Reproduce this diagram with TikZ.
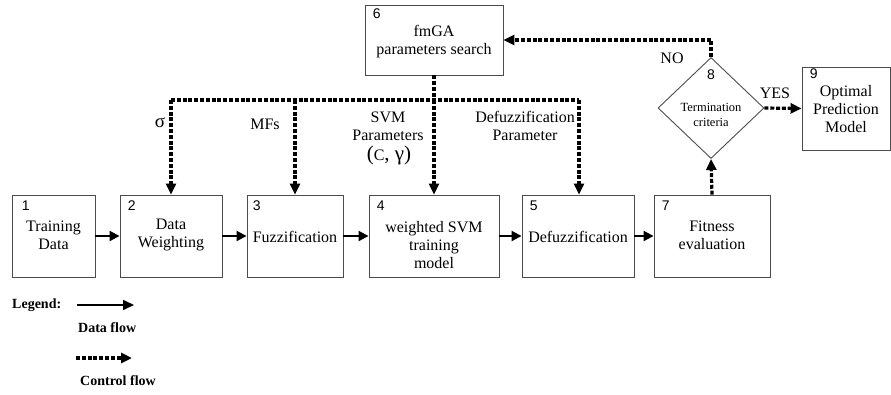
\documentclass[tikz,border=0pt]{standalone}
\usepackage{fontspec}
\setmainfont{Liberation Serif}
\newfontfamily\numf{Liberation Sans}
\usetikzlibrary{arrows.meta,shapes.geometric}
\tikzset{
  box/.style={draw=black!70, line width=0.9pt, minimum height=82pt, inner sep=0pt},
  txt/.style={align=center, font=\fontsize{16}{18}\selectfont, inner sep=0pt},
  small/.style={align=center, font=\fontsize{12.5}{15}\selectfont, inner sep=0pt},
  num/.style={anchor=north west, font=\numf\fontsize{14}{14}\selectfont, inner sep=0pt},
  data/.style={line width=2pt, -{Triangle[length=10pt,width=10pt]}},
  ctrl/.style={line width=3.2pt, dash pattern=on 4pt off 1.8pt},
  ctrlarr/.style={ctrl, -{Triangle[length=11pt,width=10pt]}},
  lgd/.style={font=\bfseries\fontsize{14}{14}\selectfont, inner sep=0pt, anchor=west}
}
\begin{document}
\begin{tikzpicture}[x=1pt,y=-1pt]
\useasboundingbox (0,0) rectangle (891,394);
% boxes
\node[box, minimum width=83pt] (b1) at (53.5,236) {};
\node[box, minimum width=102pt] (b2) at (171,236) {};
\node[box, minimum width=96pt] (b3) at (295,236) {};
\node[box, minimum width=130pt] (b4) at (434,236) {};
\node[box, minimum width=112pt] (b5) at (578,236) {};
\node[box, minimum width=116pt] (b7) at (712,236) {};
\node[box, minimum width=138pt, minimum height=70pt] (b6) at (434,40) {};
\node[box, minimum width=88pt, minimum height=83pt] (b9) at (846,108.5) {};
\node[draw=black!70, line width=0.9pt, diamond, minimum width=106pt, minimum height=101pt, inner sep=0pt, aspect=1.05] (d8) at (711,108) {};
% numbers
\node[num] (n1) at ([shift={(10,6)}]b1.north west) {1};
\node[num] (n2) at ([shift={(8,6)}]b2.north west) {2};
\node[num] (n3) at ([shift={(6,6)}]b3.north west) {3};
\node[num] (n4) at ([shift={(8,6)}]b4.north west) {4};
\node[num] (n5) at ([shift={(8,6)}]b5.north west) {5};
\node[num] (n7) at ([shift={(8,6)}]b7.north west) {7};
\node[num] (n6) at ([shift={(8,4)}]b6.north west) {6};
\node[num] (n9) at ([shift={(8,2)}]b9.north west) {9};
\node[num, anchor=north] (n8) at (711,70) {8};
% texts
\node[txt] (t1) at (53.5,235) {Training\\Data};
\node[txt] (t2) at (171,235) {Data\\Weighting};
\node[txt] (t3) at (295,237) {Fuzzification};
\node[txt] (t4) at (434,245) {weighted SVM\\training\\model};
\node[txt] (t5) at (578,237) {Defuzzification};
\node[txt] (t7) at (712,235) {Fitness\\evaluation};
\node[txt] (t6) at (434,41.5) {fmGA\\parameters search};
\node[txt] (t9) at (846,109) {Optimal\\Prediction\\Model};
\node[small] (t8) at (711,114.5) {Termination\\criteria};
% data flow
\draw[data] (b1) -- (b2);
\draw[data] (b2) -- (b3);
\draw[data] (b3) -- (b4);
\draw[data] (b4) -- (b5);
\draw[data] (b5) -- (b7);
% control flow
\coordinate (j) at (434,100);
\coordinate (jl) at (171,100);
\coordinate (jr) at (579,100);
\draw[ctrl] (b6.south) -- (j);
\draw[ctrl] (jl) -- (jr);
\draw[ctrlarr] (jl) -- (b2.north);
\draw[ctrlarr] (295,100) -- (b3.north);
\draw[ctrlarr] (j) -- (b4.north);
\draw[ctrlarr] (jr) -- (jr |- b5.north);
\draw[ctrlarr] (d8.north) |- (b6.east);
\draw[ctrlarr] (d8.east) -- (b9.west);
\draw[ctrlarr] (b7.north) -- (d8.south);
% labels
\node[txt, font=\fontsize{19}{19}\selectfont] (ls) at (160,123) {σ};
\node[txt] (lm) at (265,124) {MFs};
\node[txt] (lsvm) at (388,126) {SVM\\Parameters};
\node[txt, font=\fontsize{21}{21}\selectfont] (lcg) at (389,155) {({\fontsize{16}{16}\selectfont C}, γ)};
\node[txt] (ld) at (525,126) {Defuzzification\\Parameter};
\node[txt] (lno) at (672,58) {NO};
\node[txt] (lyes) at (775,93) {YES};
% legend
\node[lgd] (lg) at (12,305) {Legend:};
\coordinate (la1) at (77,305);
\coordinate (la2) at (134,305);
\draw[line width=1.6pt, -{Triangle[length=11pt,width=10pt]}] (la1) -- (la2);
\node[lgd] (ldf) at (78,328) {Data flow};
\coordinate (lc1) at (76,358);
\coordinate (lc2) at (132,358);
\draw[ctrlarr] (lc1) -- (lc2);
\node[lgd] (lcf) at (80,381) {Control flow};
\end{tikzpicture}
\end{document}
